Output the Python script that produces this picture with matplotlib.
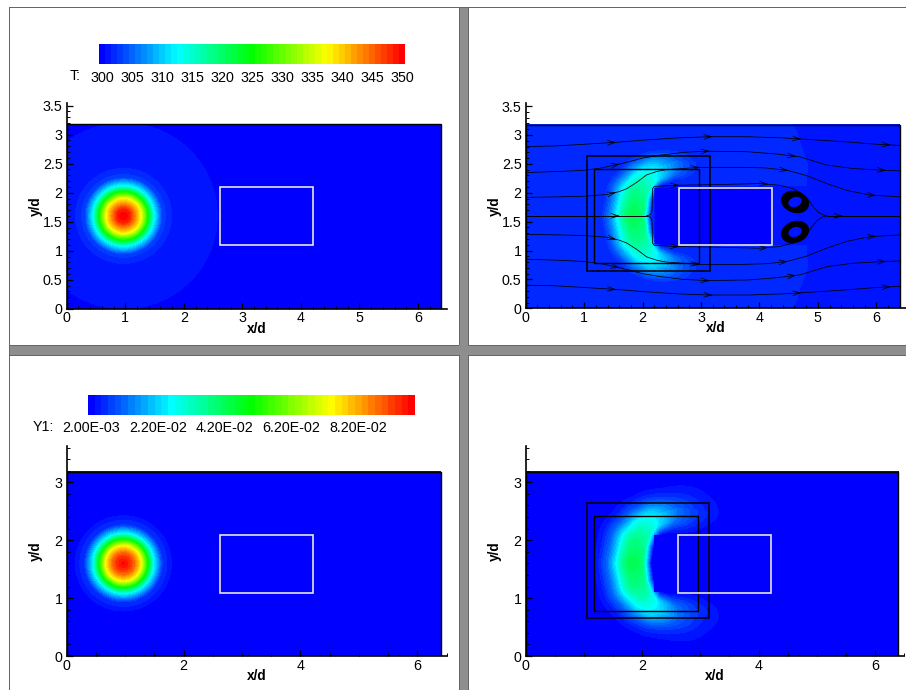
import numpy as np
import matplotlib
matplotlib.use("Agg")
import matplotlib.pyplot as plt
from matplotlib.colors import LinearSegmentedColormap
from matplotlib.patches import Rectangle, Ellipse
from matplotlib.ticker import MultipleLocator

W, H = 906, 690
plt.rcParams['font.family'] = ['Liberation Sans', 'DejaVu Sans']

# --- read-off data ---
t_levels = np.arange(300, 352, 1.0)
t_ticks = [300, 305, 310, 315, 320, 325, 330, 335, 340, 345, 350]
y_levels = 0.001 + 0.002 * np.arange(50)
y_ticks = [0.002, 0.022, 0.042, 0.062, 0.082]
y_ticklabels = ['2.00E-03', '2.20E-02', '4.20E-02', '6.20E-02', '8.20E-02']

blob_center = (0.97, 1.60)
t_radius = [0, .10, .18, .29, .41, .52, .66, .82, .86, 1.60, 1.63, 8]
t_values = [350, 348.5, 344, 337.5, 325, 312.5, 303.5, 302, 301.5, 301.01, 300.9, 300]
y_radius = [0, .10, .18, .29, .41, .52, .66, .82, .84, 8]
y_values = [.098, .094, .088, .075, .050, .025, .007, .0032, .002, .001]

# crescent ridge (upper half, dy = |y - 1.6|)
ridge_x = [1.85, 1.90, 2.02, 2.17, 2.45, 2.80, 3.10]
ridge_dy = [0.00, 0.35, 0.58, 0.75, 0.87, 0.89, 0.90]
ridge_peak = [.43, .38, .31, .24, .12, .05, .022]
ridge_wout = [.72, .72, .66, .58, .56, .68, .50]
ridge_win = [.30, .30, .28, .28, .35, .40, .30]
prof_d = [0, .15, .30, .45, .60, .80, 1.0]
prof_v = [1, .95, .78, .50, .27, .09, 0]
prof_in_d = [0, .5, .75, 1.0]
prof_in_v = [1, .92, .45, 0]

field_x_end = 6.4
field_y_end = 3.18
white_box = (2.62, 1.09, 4.21, 2.09)
obstacle = (2.19, 1.10, 4.21, 2.10)
black_outer = (1.05, 0.65, 3.15, 2.64)
black_inner = (1.17, 0.78, 2.96, 2.42)

# streamlines (upper half, mirrored about y = 1.6)
line_a_x = [0, .5, 1.0, 1.5, 2.0, 2.6, 3.15, 3.8, 4.4, 4.9, 5.5, 6.0, 6.4]
line_a_y = [2.80, 2.81, 2.84, 2.87, 2.91, 2.95, 2.97, 2.97, 2.95, 2.92, 2.88, 2.84, 2.82]
line_b_x = [0, .6, 1.0, 1.3, 1.62, 2.0, 2.3, 2.7, 3.1, 3.8, 4.3, 4.7, 5.15, 5.6, 6.12, 6.4]
line_b_y = [2.35, 2.37, 2.39, 2.43, 2.50, 2.60, 2.65, 2.70, 2.72, 2.71, 2.67, 2.62, 2.48, 2.42, 2.39, 2.38]
line_c_x = [0, .59, 1.0, 1.39, 1.6, 1.73, 1.9, 2.07, 2.25, 2.41, 2.98, 3.7, 4.1, 4.47, 4.8, 5.15, 5.5, 5.89, 6.4]
line_c_y = [1.92, 1.93, 1.94, 1.97, 2.02, 2.07, 2.18, 2.31, 2.37, 2.40, 2.44, 2.44, 2.43, 2.39, 2.30, 2.16, 2.04, 1.96, 1.93]
line_d_x = [2.07, 2.13, 2.16, 2.165, 2.17, 2.20, 2.58, 3.2, 4.0, 4.35, 4.58, 4.72, 4.82, 4.92, 5.0, 5.08, 5.15]
line_d_y = [1.60, 1.62, 1.67, 1.85, 2.07, 2.11, 2.13, 2.14, 2.16, 2.13, 2.07, 1.99, 1.90, 1.76, 1.67, 1.62, 1.60]
center_in_x = [0, 2.07]
center_out_x = [5.15, 6.4]
center_y = 1.60
arrows_a = [1.5, 3.15, 4.67, 6.2]
arrows_b = [1.56, 3.1, 4.58, 6.12]
arrows_c = [1.5, 2.93, 4.44, 5.95]
arrows_d = [2.58, 4.1]
arrows_center = [1.56, 5.38]
eddy_x = [4.61, 4.61]
eddy_y = [1.84, 1.32]
eddy_outer_angle = [-20, 20]
eddy_inner_angle = [20, 20]
eddy_widths = [.27, .31, .35, .39, .43, .46]

# --- colormap ---
cmap = LinearSegmentedColormap.from_list(
    'tp', [(0, '#0000ff'), (.25, '#00ffff'), (.5, '#00ff00'), (.75, '#ffff00'), (1, '#ff0000')], N=256)

fig = plt.figure(figsize=(W / 100, H / 100), dpi=100, facecolor='white')


def box(x0, y0, x1, y1):
    return [x0 / W, 1 - y1 / H, (x1 - x0) / W, (y1 - y0) / H]


def frect(x0, y0, x1, y1, color):
    fig.patches.append(Rectangle((x0 / W, 1 - y1 / H), (x1 - x0) / W, (y1 - y0) / H,
                                 transform=fig.transFigure, fc=color, ec='none', zorder=-5))


# panel frame
frect(459, 8, 468, 690, '#8e8e8e')
frect(9.5, 345, 906, 355, '#8e8e8e')
frect(9, 7, 10, 690, '#666666')
frect(9, 7, 906, 8, '#666666')
frect(458.5, 8, 459.5, 345, '#666666')
frect(467.5, 8, 468.5, 345, '#666666')
frect(458.5, 355, 459.5, 690, '#666666')
frect(467.5, 355, 468.5, 690, '#666666')
frect(10, 344.5, 458.5, 345.5, '#666666')
frect(468, 344.5, 906, 345.5, '#666666')
frect(10, 354.5, 458.5, 355.5, '#666666')
frect(468, 354.5, 906, 355.5, '#666666')

xg = np.linspace(0, field_x_end, 513)
yg = np.linspace(0, field_y_end, 255)
X, Y = np.meshgrid(xg, yg)


def radial(rtab, vtab):
    R = np.hypot(X - blob_center[0], Y - blob_center[1])
    return np.interp(R, rtab, vtab)


def crescent():
    s = np.arange(len(ridge_x))
    t = np.linspace(0, len(ridge_x) - 1, 72)
    rx = np.interp(t, s, ridge_x)
    ry = np.interp(t, s, ridge_dy)
    rp = np.interp(t, s, ridge_peak)
    wo = np.interp(t, s, ridge_wout)
    wi = np.interp(t, s, ridge_win)
    dy = np.abs(Y - 1.6)
    hub = (3.0, 0.0)
    rad = np.hypot(X - hub[0], dy - hub[1])
    out = np.zeros_like(X)
    for a, b, p, o, i in zip(rx, ry, rp, wo, wi):
        d = np.hypot(X - a, dy - b)
        outer = rad > np.hypot(a - hub[0], b - hub[1])
        v = np.where(outer, np.interp(d / o, prof_d, prof_v), np.interp(d / i, prof_in_d, prof_in_v))
        out = np.maximum(out, p * v)
    inside = (X > obstacle[0]) & (X < obstacle[2]) & (Y > obstacle[1]) & (Y < obstacle[3])
    out[inside] = 0
    return out, inside, dy


def make_axes(x0, y_zero, x6, y_ref, ref, xmaj, xmin, ymaj, ymin, ytop, xright):
    sx = (x6 - x0) / 6
    sy = (y_zero - y_ref) / ref
    ax = fig.add_axes(box(x0, y_zero - ytop * sy, x0 + xright * sx, y_zero))
    ax.set_xlim(0, xright)
    ax.set_ylim(0, ytop)
    ax.patch.set_alpha(0)
    for s in ('top', 'right'):
        ax.spines[s].set_visible(False)
    for s in ('left', 'bottom'):
        ax.spines[s].set_linewidth(1.2)
        ax.spines[s].set_zorder(6)
    ax.xaxis.set_minor_locator(MultipleLocator(xmin))
    ax.yaxis.set_minor_locator(MultipleLocator(ymin))
    ax.set_xticks(np.arange(0, 6.01, xmaj))
    ax.set_yticks(np.arange(0, ytop, ymaj))
    ax.set_xticklabels([f'{v:g}' for v in ax.get_xticks()])
    ax.set_yticklabels([f'{v:g}' for v in ax.get_yticks()])
    ax.tick_params(which='major', direction='in', length=4.5, width=.9, labelsize=10.3, zorder=5)
    ax.tick_params(which='minor', direction='in', length=2.2, width=.7, zorder=5)
    ax.tick_params(axis='x', which='major', pad=2)
    ax.tick_params(axis='y', which='major', pad=3)
    ax.set_xlabel('x/d', fontweight='bold', fontsize=9.8)
    ax.set_ylabel('y/d', fontweight='bold', fontsize=9.8)
    ax.xaxis.set_label_coords(0.5, -13 / (ytop * sy))
    ax.yaxis.set_label_coords(-24 / (xright * sx), 0.5)
    return ax


def decorate(ax, black=True):
    ax.add_patch(Rectangle((0, 0), field_x_end, field_y_end, fc='none', ec='black', lw=1.0, zorder=4))
    if black:
        for b, lw in ((black_outer, 1.1), (black_inner, 1.0)):
            ax.add_patch(Rectangle((b[0], b[1]), b[2] - b[0], b[3] - b[1], fc='none', ec='black', lw=lw, zorder=3.4))
    ax.add_patch(Rectangle((white_box[0], white_box[1]), white_box[2] - white_box[0], white_box[3] - white_box[1],
                           fc='none', ec='#e4e4e4', lw=1.2, zorder=3.5))


def t_contour(ax, Z):
    ax.contourf(X, Y, Z, levels=t_levels, cmap=cmap, vmin=300.5, vmax=349.5, extend='both')


def y_contour(ax, Z):
    ax.contourf(X, Y, Z, levels=y_levels, cmap=cmap, vmin=.002, vmax=.098, extend='both')


def colorbar(pos, levels, vmin, vmax, ticks, labels, name, name_x, name_y):
    cax = fig.add_axes(box(*pos))
    cax.pcolormesh(levels, [0, 1], ((levels[:-1] + levels[1:]) / 2).reshape(1, -1), cmap=cmap, vmin=vmin, vmax=vmax)
    cax.set_xlim(levels[0], levels[-1])
    cax.set_yticks([])
    cax.set_xticks(ticks)
    cax.set_xticklabels(labels)
    cax.tick_params(axis='x', length=0, pad=4.5, labelsize=10.3)
    for s in cax.spines.values():
        s.set_visible(False)
    fig.text(name_x / W, 1 - name_y / H, name, fontsize=10.3, ha='center', va='center')


def draw_arrows(ax, xs, ys, positions):
    for a in positions:
        for i in range(len(xs) - 1):
            if xs[i] <= a <= xs[i + 1] and xs[i + 1] > xs[i]:
                f = (a - xs[i]) / (xs[i + 1] - xs[i])
                y = ys[i] + f * (ys[i + 1] - ys[i])
                dy = (ys[i + 1] - ys[i]) / (xs[i + 1] - xs[i])
                ax.annotate('', xy=(a + .05, y + .05 * dy), xytext=(a - .05, y - .05 * dy),
                            arrowprops=dict(arrowstyle='->,head_length=0.55,head_width=0.17',
                                            lw=.5, color='black', shrinkA=0, shrinkB=0), zorder=3.3)
                break


# --- top-left ---
ax1 = make_axes(66.7, 308.7, 418, 134.7, 3, 1, .2, .5, .1, 3.55, 6.5)
t_contour(ax1, radial(t_radius, t_values))
decorate(ax1, black=False)

# --- top-right ---
ax2 = make_axes(525.7, 308.3, 876.3, 135, 3, 1, .2, .5, .1, 3.55, 6.5)
cres, inside, dy = crescent()
edge_dy = [0, .5, .9, 1.1, 1.6]
edge_x = [4.8, 4.8, 4.82, 4.75, 4.58]
light = (X < np.interp(dy, edge_dy, edge_x)) & ((dy > .52) | (X < 2.19))
bg_t = np.where(light, 302.5, 301.5)
Zt = np.maximum(bg_t, 300 + 50 * cres)
Zt[inside] = 300.5
t_contour(ax2, Zt)
decorate(ax2)
for lx, ly, arrs in ((line_a_x, line_a_y, arrows_a), (line_b_x, line_b_y, arrows_b),
                     (line_c_x, line_c_y, arrows_c), (line_d_x, line_d_y, arrows_d)):
    lx, ly = np.array(lx), np.array(ly)
    for yy in (ly, 3.2 - ly):
        ax2.plot(lx, yy, color='black', lw=.55, zorder=3.2, solid_joinstyle='round')
        draw_arrows(ax2, lx, yy, arrs)
for seg in (center_in_x, center_out_x):
    ax2.plot(seg, [center_y, center_y], color='black', lw=.7, zorder=3.2)
    draw_arrows(ax2, seg, [center_y, center_y], arrows_center)
for ex, ey, ao, ai in zip(eddy_x, eddy_y, eddy_outer_angle, eddy_inner_angle):
    for w in eddy_widths:
        f = (w - eddy_widths[0]) / (eddy_widths[-1] - eddy_widths[0])
        ax2.add_patch(Ellipse((ex, ey), w, w * .74, angle=ai + f * (ao - ai), fc='none', ec='black', lw=1.3, zorder=3.3))

# --- bottom-left ---
ax3 = make_axes(66.7, 656, 417.3, 482.3, 3, 2, .5, 1, .2, 3.63, 6.5)
y_contour(ax3, radial(y_radius, y_values))
decorate(ax3, black=False)

# --- bottom-right ---
ax4 = make_axes(525.7, 656, 875, 482.3, 3, 2, .5, 1, .2, 3.63, 6.5)
Zy = np.maximum(.001, .002 + .096 * cres - .0002)
Zy[inside] = .001
y_contour(ax4, Zy)
decorate(ax4)

# --- colour bars ---
colorbar((99.3, 44.3, 405.3, 64.3), np.arange(299.5, 351.5, 1.0), 300, 350, t_ticks,
         [str(v) for v in t_ticks], 'T:', 75, 76.5)
colorbar((88, 394.5, 415, 415), y_levels + 0.0001, .002, .098, y_ticks, y_ticklabels, 'Y1:', 43, 427)

fig.savefig('out.png', dpi=100, facecolor='white')
